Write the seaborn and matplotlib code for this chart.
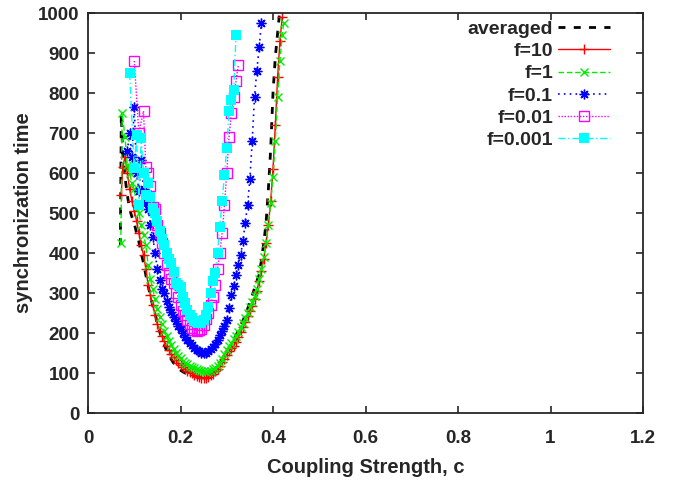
import matplotlib
matplotlib.use("Agg")
import matplotlib.pyplot as plt
import seaborn as sns
import pandas as pd
from matplotlib.ticker import FuncFormatter

# ---------------- data ----------------
c_avg = [0.070, 0.072, 0.075, 0.080, 0.085, 0.090, 0.095, 0.100, 0.105, 0.110,
         0.115, 0.120, 0.125, 0.130, 0.135, 0.140, 0.145, 0.150, 0.155, 0.160,
         0.165, 0.170, 0.175, 0.180, 0.185, 0.190, 0.195, 0.200, 0.205, 0.210,
         0.215, 0.220, 0.225, 0.230, 0.235, 0.240, 0.245, 0.250, 0.255, 0.260,
         0.265, 0.270, 0.275, 0.280, 0.285, 0.290, 0.295, 0.300, 0.305, 0.310,
         0.315, 0.320, 0.325, 0.330, 0.335, 0.340, 0.345, 0.350, 0.355, 0.360,
         0.365, 0.370, 0.375, 0.380, 0.385, 0.390, 0.395, 0.400, 0.405, 0.410,
         0.415]
t_avg = [420, 748, 650, 590, 545, 510, 490, 474, 450, 428,
         400, 375, 345, 318, 292, 268, 250, 222, 203, 186,
         170, 156, 144, 134, 125, 118, 112, 107, 103, 100,
         97, 95, 93, 91, 90, 89, 89, 90, 92, 95,
         99, 104, 110, 117, 125, 134, 143, 152, 162, 172,
         183, 194, 206, 218, 231, 245, 260, 276, 293, 312,
         330, 345, 382, 425, 475, 560, 660, 800, 890, 950,
         1010]

c_f10 = [0.072, 0.075, 0.080, 0.085, 0.090, 0.095, 0.100, 0.105, 0.110, 0.115,
         0.120, 0.125, 0.130, 0.135, 0.140, 0.145, 0.150, 0.155, 0.160, 0.165,
         0.170, 0.175, 0.180, 0.185, 0.190, 0.195, 0.200, 0.205, 0.210, 0.215,
         0.220, 0.225, 0.230, 0.235, 0.240, 0.245, 0.250, 0.255, 0.260, 0.265,
         0.270, 0.275, 0.280, 0.285, 0.290, 0.295, 0.300, 0.305, 0.310, 0.315,
         0.320, 0.325, 0.330, 0.335, 0.340, 0.345, 0.350, 0.355, 0.360, 0.365,
         0.370, 0.375, 0.380, 0.385, 0.390, 0.395, 0.400, 0.405, 0.410, 0.415,
         0.420]
t_f10 = [545, 616, 640, 600, 560, 530, 505, 480, 450, 420,
         395, 360, 320, 295, 270, 245, 222, 205, 192, 180,
         168, 158, 148, 140, 132, 126, 120, 115, 110, 106,
         103, 99, 96, 93, 90, 88, 87, 88, 90, 94,
         98, 104, 110, 118, 127, 136, 146, 155, 162, 168,
         178, 190, 203, 215, 228, 242, 256, 268, 285, 305,
         330, 355, 385, 425, 470, 530, 610, 720, 840, 930,
         990]

c_f1 = [0.071, 0.074, 0.080, 0.085, 0.090, 0.095, 0.100, 0.105, 0.110, 0.115,
        0.120, 0.125, 0.130, 0.135, 0.140, 0.145, 0.150, 0.155, 0.160, 0.165,
        0.170, 0.175, 0.180, 0.185, 0.190, 0.195, 0.200, 0.205, 0.210, 0.215,
        0.220, 0.225, 0.230, 0.235, 0.240, 0.245, 0.250, 0.255, 0.260, 0.265,
        0.270, 0.275, 0.280, 0.285, 0.290, 0.295, 0.300, 0.305, 0.310, 0.315,
        0.320, 0.325, 0.330, 0.335, 0.340, 0.345, 0.350, 0.355, 0.360, 0.365,
        0.370, 0.375, 0.380, 0.385, 0.390, 0.395, 0.400, 0.405, 0.410, 0.415,
        0.420, 0.423]
t_f1 = [424, 749, 690, 620, 600, 575, 560, 520, 500, 470,
        445, 420, 370, 335, 310, 285, 260, 240, 222, 206,
        192, 180, 170, 160, 150, 143, 137, 131, 126, 122,
        118, 115, 112, 110, 107, 105, 104, 103, 104, 106,
        109, 112, 118, 125, 135, 148, 158, 168, 176, 184,
        192, 203, 214, 226, 238, 250, 264, 278, 292, 310,
        335, 360, 390, 425, 470, 525, 590, 680, 790, 880,
        945, 975]

c_f01 = [0.085, 0.090, 0.095, 0.100, 0.105, 0.110, 0.115, 0.120, 0.125, 0.130,
         0.135, 0.140, 0.145, 0.150, 0.155, 0.160, 0.165, 0.170, 0.175, 0.180,
         0.185, 0.190, 0.195, 0.200, 0.205, 0.210, 0.215, 0.220, 0.225, 0.230,
         0.235, 0.240, 0.245, 0.250, 0.255, 0.260, 0.265, 0.270, 0.275, 0.280,
         0.285, 0.290, 0.295, 0.300, 0.305, 0.310, 0.315, 0.320, 0.325, 0.330,
         0.335, 0.340, 0.345, 0.350, 0.355, 0.360, 0.365, 0.370, 0.375]
t_f01 = [655, 700, 640, 765, 600, 555, 632, 560, 525, 510,
         470, 440, 400, 360, 332, 310, 300, 280, 265, 252,
         240, 229, 218, 210, 200, 190, 182, 176, 170, 163,
         158, 154, 151, 149, 150, 154, 160, 165, 172, 182,
         195, 205, 218, 232, 262, 295, 318, 345, 370, 395,
         430, 475, 520, 585, 680, 790, 855, 915, 975]

c_f001 = [0.100, 0.110, 0.120, 0.125, 0.130, 0.135, 0.140, 0.145, 0.150, 0.155,
          0.160, 0.165, 0.170, 0.175, 0.180, 0.185, 0.190, 0.195, 0.200, 0.205,
          0.210, 0.215, 0.220, 0.225, 0.230, 0.235, 0.240, 0.245, 0.250, 0.255,
          0.260, 0.265, 0.270, 0.275, 0.280, 0.285, 0.290, 0.295, 0.300, 0.305,
          0.310, 0.315, 0.320, 0.325]
t_f001 = [880, 700, 755, 615, 600, 568, 515, 510, 470, 449,
          424, 400, 370, 350, 335, 324, 300, 291, 270, 255,
          245, 232, 222, 212, 208, 206, 207, 210, 220, 235,
          250, 270, 290, 320, 360, 400, 450, 520, 600, 690,
          750, 790, 830, 870]

c_f0001 = [0.090, 0.100, 0.105, 0.110, 0.115, 0.120, 0.125, 0.130, 0.135, 0.140,
           0.145, 0.150, 0.155, 0.160, 0.165, 0.170, 0.175, 0.180, 0.185, 0.190,
           0.195, 0.200, 0.205, 0.210, 0.215, 0.220, 0.225, 0.230, 0.235, 0.240,
           0.245, 0.250, 0.255, 0.260, 0.265, 0.270, 0.275, 0.280, 0.285, 0.290,
           0.295, 0.300, 0.305, 0.310, 0.315, 0.320]
t_f0001 = [850, 612, 695, 520, 687, 600, 545, 574, 540, 512,
           500, 479, 455, 435, 420, 399, 385, 374, 353, 324,
           320, 316, 290, 274, 257, 245, 237, 230, 228, 225,
           224, 232, 245, 265, 300, 330, 350, 400, 466, 530,
           595, 662, 754, 782, 807, 945]

x_ticks = [0, 0.2, 0.4, 0.6, 0.8, 1.0, 1.2]
y_ticks = [0, 100, 200, 300, 400, 500, 600, 700, 800, 900, 1000]

# ---------------- style ----------------
sns.set_style("ticks")
plt.rcParams["font.family"] = ["Liberation Sans", "DejaVu Sans"]
plt.rcParams["font.weight"] = "bold"

fig = plt.figure(figsize=(6.81, 4.82), dpi=100)
ax = fig.add_axes([88 / 681, 1 - 413 / 482, (643 - 88) / 681, (413 - 13) / 482])

series = [
    ("averaged", c_avg, t_avg, dict(color="black", linestyle=(0, (2.5, 3)), linewidth=2.0,
                                    marker=None)),
    ("f=10", c_f10, t_f10, dict(color="#ff0000", linestyle="-", linewidth=1.0, marker="+",
                                markersize=7, markeredgewidth=1.0, markeredgecolor="#ff0000")),
    ("f=1", c_f1, t_f1, dict(color="#00ee00", linestyle=(0, (4, 2)), linewidth=1.0, marker="x",
                             markersize=5.5, markeredgewidth=1.0, markeredgecolor="#00ee00")),
    ("f=0.1", c_f01, t_f01, dict(color="#0000ff", linestyle=(0, (1, 2.5)), linewidth=1.2,
                                 marker=(8, 2, 0), markersize=7, markeredgewidth=1.0,
                                 markeredgecolor="#0000ff")),
    ("f=0.01", c_f001, t_f001, dict(color="#ff00ff", linestyle=(0, (1, 1.2)), linewidth=1.0,
                                    marker="s", markersize=6.5, markerfacecolor="none",
                                    markeredgewidth=1.0, markeredgecolor="#ff00ff")),
    ("f=0.001", c_f0001, t_f0001, dict(color="#00ffff", linestyle=(0, (5, 2, 1, 2)),
                                       linewidth=1.0, marker="s", markersize=6.8,
                                       markeredgewidth=0.0, markeredgecolor="#00ffff")),
]

for name, cx, ty, kw in series:
    df = pd.DataFrame({"c": cx, "t": ty})
    sns.lineplot(data=df, x="c", y="t", ax=ax, sort=False, estimator=None,
                 label=name, **kw)

ax.set_xlim(0, 1.2)
ax.set_ylim(0, 1000)
ax.set_xticks(x_ticks)
ax.set_yticks(y_ticks)
ax.xaxis.set_major_formatter(FuncFormatter(lambda v, p: f"{v:g}"))
ax.tick_params(direction="in", top=True, right=True, length=5, width=1.2,
               labelsize=13.5)
ax.tick_params(axis="x", pad=12)
ax.tick_params(axis="y", pad=6)
for lab in ax.get_xticklabels() + ax.get_yticklabels():
    lab.set_fontweight("bold")
for s in ax.spines.values():
    s.set_linewidth(1.3)
    s.set_visible(True)

ax.set_xlabel("Coupling Strength, c", fontsize=14.5, fontweight="bold", labelpad=8)
ax.set_ylabel("synchronization time", fontsize=14.5, fontweight="bold", labelpad=4)

leg = ax.legend(loc="upper right", bbox_to_anchor=(0.941, 0.982), frameon=False,
                markerfirst=False, handlelength=2.7, handletextpad=0.25,
                labelspacing=0.24, borderpad=0.0, borderaxespad=0.0,
                prop={"weight": "bold", "size": 14})

fig.savefig("out.png", dpi=100)
